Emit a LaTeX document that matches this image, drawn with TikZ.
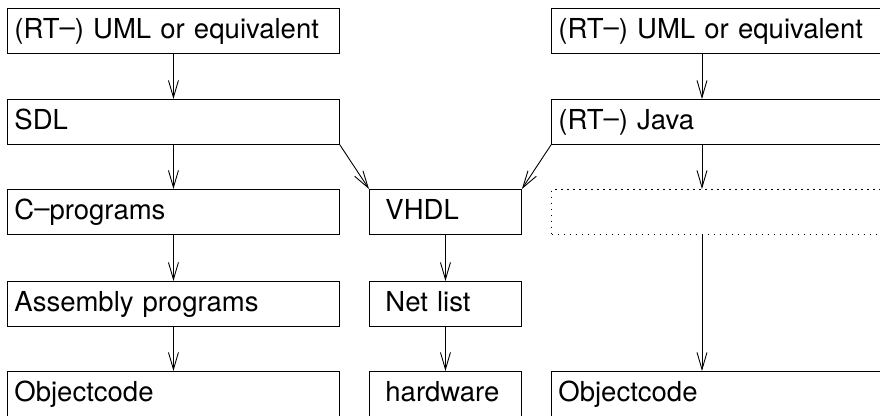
\documentclass[tikz,border=0pt]{standalone}
\usepackage{fontspec}
\setmainfont{TeX Gyre Heros}
\usetikzlibrary{arrows.meta}
\newcommand{\mydash}{\raisebox{1.5pt}{–}}
\begin{document}
\begin{tikzpicture}[x=1pt,y=-1pt,
  box/.style={draw, line width=0.9pt, anchor=north west, minimum height=45pt,
    inner xsep=7pt, inner ysep=0pt, text height=20pt, text depth=5pt,
    align=left, font=\fontsize{27.5}{33}\selectfont},
  lbox/.style={box, text width=318pt},
  mbox/.style={box, inner xsep=16pt, text width=120pt},
  rbox/.style={box, text width=326pt},
  dotbox/.style={rbox, line width=1pt, dash pattern=on 1.5pt off 4.5pt},
  arr/.style={line width=0.9pt, -{Straight Barb[length=17pt,width=10pt]}},
  plain/.style={line width=0.9pt}
]
\useasboundingbox (0,0) rectangle (880,415);
\clip (0,0) rectangle (880,415);

% left column
\node[lbox] (uml1) at (7,8) {(RT\mydash) UML or equivalent};
\node[lbox] (sdl) at (7,99) {SDL};
\node[lbox] (cprog) at (7,189) {C\mydash programs};
\node[lbox] (asm) at (7,281) {Assembly programs};
\node[lbox] (obj1) at (7,371) {Objectcode};

% middle column
\node[mbox] (vhdl) at (369,189) {VHDL};
\node[mbox] (net) at (369,281) {Net list};
\node[mbox] (hw) at (369,371) {hardware};

% right column
\node[rbox] (uml2) at (551,8) {(RT\mydash) UML or equivalent};
\node[rbox] (java) at (551,99) {(RT\mydash) Java};
\node[dotbox] (dots) at (551,189) {};
\node[rbox] (obj2) at (551,371) {Objectcode};
\coordinate (ax) at (702,0);

% connectors
\draw[arr] (uml1.south) -- (sdl.north);
\draw[arr] (sdl.south) -- (cprog.north);
\draw[arr] (cprog.south) -- (asm.north);
\draw[arr] (asm.south) -- (obj1.north);

\draw[arr] (vhdl.south) -- (net.north);
\draw[arr] (net.south) -- (hw.north);

\draw[arr] (sdl.south east) -- (vhdl.north west);
\draw[arr] (java.south west) -- (vhdl.north east);

\draw[arr] (uml2.south -| ax) -- (java.north -| ax);
\draw[arr] (java.south -| ax) -- (dots.north -| ax);
\draw[arr] (dots.south -| ax) -- (obj2.north -| ax);
\end{tikzpicture}
\end{document}
